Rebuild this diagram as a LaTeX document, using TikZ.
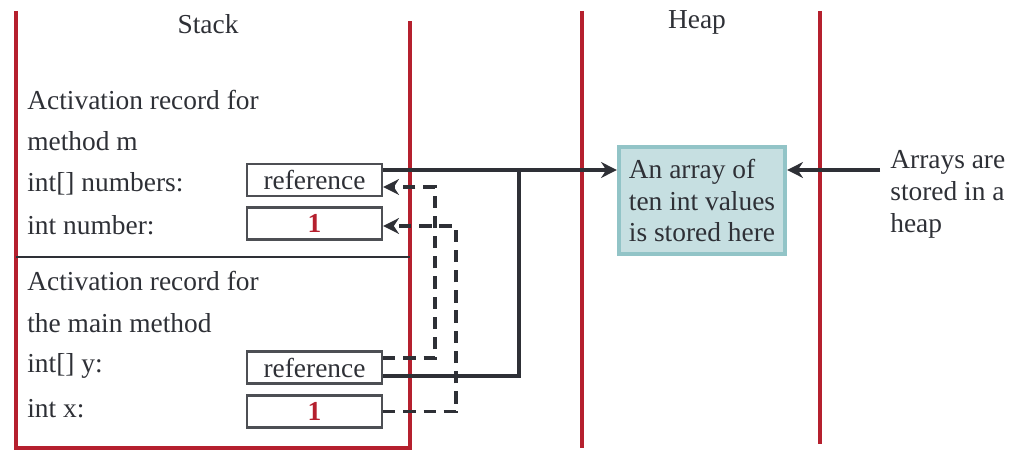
\documentclass[tikz,border=0pt]{standalone}
\usepackage{fontspec}
\setmainfont{Liberation Serif}
\usetikzlibrary{arrows.meta,calc}
\definecolor{wallred}{HTML}{B5202E}
\definecolor{ink}{HTML}{2E3036}
\definecolor{heapfill}{HTML}{C6DFE1}
\definecolor{heapline}{HTML}{92C4C7}
\begin{document}
\begin{tikzpicture}[x=0.02cm,y=-0.02cm,
  every node/.style={font=\fontsize{15.6}{18.1}\selectfont, text=ink},
  wall/.style={draw=wallred, line width=2.1pt},
  label/.style={anchor=west, inner sep=0pt},
  cell/.style={draw=ink!85, line width=1.3pt, minimum width=2.7cm, minimum height=0.64cm, inner sep=0pt},
  val/.style={font=\fontsize{15.6}{18.1}\selectfont\bfseries, text=wallred},
  link/.style={draw=ink, line width=2pt},
  dlink/.style={draw=ink, line width=2pt, dash pattern=on 7pt off 4.5pt},
  tip/.style={-{Stealth[length=9pt,width=9pt]}}]
\useasboundingbox (0,0) rectangle (1024,469);
% walls
\draw[wall] (16,11) -- (16,448) -- (410,448) -- (410,21);
\draw[wall] (582,11) -- (582,448);
\draw[wall] (820,11) -- (820,444);
\draw[draw=ink, line width=1pt] (16,257) -- (410,257);
% titles
\node (stack) at (208,24) {Stack};
\node (heaptitle) at (697,22) {Heap};
% labels
\node[label] (l1) at (27,100) {Activation record for};
\node[label] (l2) at (27,141) {method m};
\node[label] (l3) at (27,184) {int[] numbers:};
\node[label] (l4) at (27,225) {int number:};
\node[label] (l5) at (27,281) {Activation record for};
\node[label] (l6) at (27,323) {the main method};
\node[label] (l7) at (27,366) {int[] y:};
\node[label] (l8) at (27,409) {int x:};
% cells
\node[cell] (r1) at (314.5,180) {reference};
\node[cell, val] (n1) at (314.5,223.5) {1};
\node[cell] (r2) at (314.5,367.5) {reference};
\node[cell, val] (n2) at (314.5,411.5) {1};
% heap box
\node[draw=heapline, fill=heapfill, line width=2.4pt, minimum width=3.32cm, minimum height=2.14cm,
      align=left, inner sep=0pt] (heap) at (702,200.5)
  {An array of\\ten int values\\is stored here};
\node[anchor=north west, align=left, inner sep=0pt] (note) at (890,150)
  {Arrays are\\stored in a\\heap};
% solid references
\coordinate (a) at ([yshift=0.2cm]r1.east);
\coordinate (j) at (519,170);
\coordinate (s) at (880,170);
\draw[link, tip] (a) -- (a -| heap.west);
\draw[link] ([yshift=-0.17cm]r2.east) -| (j);
\draw[link, tip] (s) -- (s -| heap.east);
% dashed copies
\coordinate (d1) at (435,270);
\coordinate (d2) at (456,300);
\draw[dlink, tip] ([yshift=0.19cm]r2.east) -| (d1) |- ([yshift=-0.14cm]r1.east);
\draw[dlink, tip] (n2.east) -| (d2) |- ([yshift=-0.05cm]n1.east);
\end{tikzpicture}
\end{document}
